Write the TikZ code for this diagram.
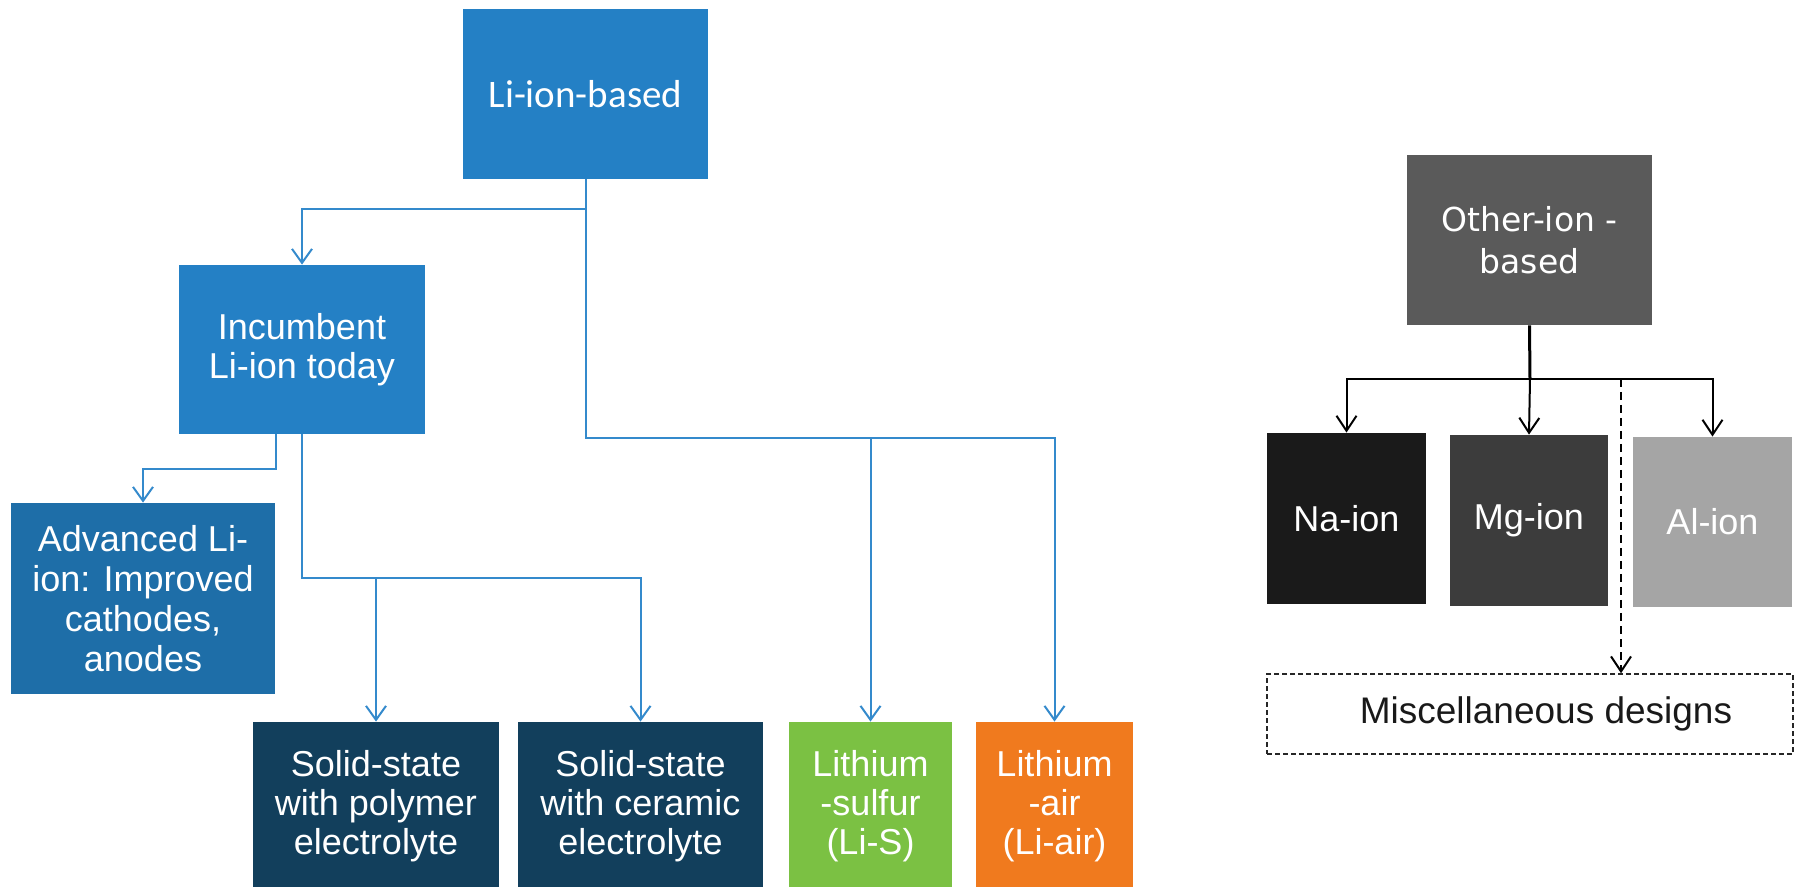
\documentclass[tikz,border=0pt]{standalone}
\usepackage{fontspec}
\setmainfont{Liberation Sans}
\newfontfamily\liionfont{Carlito}
\newfontfamily\otherfont{DejaVu Sans}
\usetikzlibrary{arrows.meta}

\definecolor{liblue}{RGB}{36,128,197}
\definecolor{advblue}{RGB}{30,110,168}
\definecolor{solidnavy}{RGB}{18,63,92}
\definecolor{sulfurgreen}{RGB}{123,193,67}
\definecolor{airorange}{RGB}{240,122,30}
\definecolor{linkblue}{RGB}{52,138,204}
\definecolor{othergrey}{RGB}{90,90,90}
\definecolor{nagrey}{RGB}{26,26,26}
\definecolor{mggrey}{RGB}{60,60,60}
\definecolor{algrey}{RGB}{165,165,165}

\tikzset{
  chembox/.style={rectangle,inner sep=0pt,align=center,text=white,
    font=\fontsize{18}{19.5}\selectfont},
  blueflow/.style={draw=linkblue,line width=1pt,
    -{Straight Barb[length=7pt,width=10pt]}},
  greyflow/.style={draw=black,line width=1pt,
    -{Straight Barb[length=7.5pt,width=10pt]}}
}

\begin{document}
\begin{tikzpicture}[x=0.5pt,y=-0.5pt]
  \useasboundingbox (0,0) rectangle (1800,887);

  % lithium family
  \node[chembox,fill=liblue,minimum width=122.5pt,minimum height=85pt,
        font=\liionfont\fontsize{19.5}{21}\selectfont] (libased) at (585.5,94) {Li-ion-based};
  \node[chembox,fill=liblue,minimum width=123pt,minimum height=84.5pt] (incumb) at (302,349.5) {Incumbent\\Li-ion today};
  \node[chembox,fill=advblue,minimum width=132pt,minimum height=95.5pt,
        font=\fontsize{18}{20}\selectfont] (adv) at (143,598.5) {Advanced Li-\\ion: Improved\\cathodes,\\anodes};
  \node[chembox,fill=solidnavy,minimum width=123pt,minimum height=84pt] (sspoly) at (376,806) {Solid-state\\with polymer\\electrolyte};
  \node[chembox,fill=solidnavy,minimum width=122.5pt,minimum height=84pt] (sscer) at (640.5,806) {Solid-state\\with ceramic\\electrolyte};
  \node[chembox,fill=sulfurgreen,minimum width=81.5pt,minimum height=84pt] (lis) at (870.5,806) {Lithium\\-sulfur\\(Li-S)};
  \node[chembox,fill=airorange,minimum width=78.5pt,minimum height=84pt] (liair) at (1054.5,806) {Lithium\\-air\\(Li-air)};

  \coordinate (libus) at (585.5,438);
  \coordinate (solidbus) at (302,578);

  \draw[blueflow] (libased.south) -- ++(0,30) -| (incumb.north);
  \draw[blueflow] (libased.south) -- (libus) -| (liair.north);
  \draw[blueflow] (lis.north |- libus) -- (lis.north);
  \draw[blueflow] ([xshift=-13pt]incumb.south) -- ++(0,35) -| (adv.north);
  \draw[blueflow] (incumb.south) -- (solidbus) -| (sscer.north);
  \draw[blueflow] (sspoly.north |- solidbus) -- (sspoly.north);

  % other ions
  \node[chembox,fill=othergrey,minimum width=122.5pt,minimum height=85pt,
        font=\otherfont\fontsize{16.5}{21}\selectfont] (other) at (1529.5,240) {Other-ion -\\based};
  \node[chembox,fill=nagrey,minimum width=79.5pt,minimum height=85.5pt] (na) at (1346.5,518.5) {Na-ion};
  \node[chembox,fill=mggrey,minimum width=79pt,minimum height=85.5pt] (mg) at (1529,520.5) {Mg-ion};
  \node[chembox,fill=algrey,minimum width=79.5pt,minimum height=85pt] (al) at (1712.5,522) {Al-ion};
  \node[rectangle,draw=black!85,line width=0.75pt,dash pattern=on 2.5pt off 1.5pt,
        minimum width=263pt,minimum height=40pt,inner sep=0pt,
        font=\fontsize{18.5}{20}\selectfont,text=black!90] (misc) at (1530,714) {\hspace*{16pt}Miscellaneous designs};

  \coordinate (otherbus) at (1530,379);
  \coordinate (miscsplit) at (1621,379);

  \draw[line width=1.5pt] (other.south) -- (otherbus);
  \draw[greyflow] (otherbus) -| (na.north);
  \draw[greyflow] (otherbus) -| (al.north);
  \draw[greyflow] (otherbus) -- (mg.north);
  \draw[greyflow,dash pattern=on 4pt off 2.5pt] (miscsplit) -- (miscsplit |- misc.north);
\end{tikzpicture}
\end{document}
